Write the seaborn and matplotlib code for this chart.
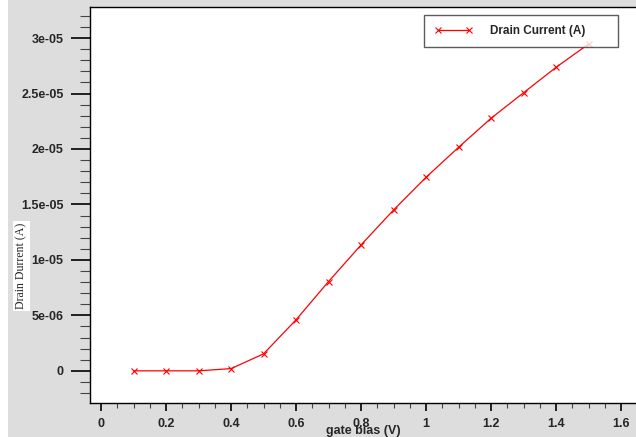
import matplotlib
matplotlib.use('Agg')
import matplotlib.pyplot as plt
import matplotlib.ticker as mticker
from matplotlib.patches import Rectangle
import pandas as pd
import seaborn as sns

# data
gate_bias = [0.1, 0.2, 0.3, 0.4, 0.5, 0.6, 0.7, 0.8, 0.9, 1.0, 1.1, 1.2, 1.3, 1.4, 1.5]
drain_current = [0.0, 0.0, 0.0, 0.2e-6, 1.53e-6, 4.6e-6, 8.05e-6, 11.35e-6, 14.5e-6,
                 17.45e-6, 20.15e-6, 22.77e-6, 25.07e-6, 27.36e-6, 29.46e-6]
series_name = 'Drain Current (A)'
x_label = 'gate bias (V)'
y_label = 'Drain Durrent (A)'

data = pd.DataFrame({'gate bias': gate_bias, 'current': drain_current})

sns.set_style('ticks')
plt.rcParams['font.family'] = ['Liberation Sans', 'DejaVu Sans']

W, H = 636, 437
fig = plt.figure(figsize=(W / 100, H / 100), dpi=100)
fig.patch.set_facecolor('#dddddd')
fig.patches.append(Rectangle((0, 0), 8 / W, 1, transform=fig.transFigure,
                             facecolor='white', edgecolor='none', zorder=-1))

left, right, top, bottom = 90, 636, 7, 403
ax = fig.add_axes([left / W, (H - bottom) / H, (right - left) / W, (bottom - top) / H])
ax.set_facecolor('white')

sns.lineplot(data=data, x='gate bias', y='current', ax=ax, color='red',
             marker='x', markersize=5, mec='red', mew=0.8, linewidth=0.9,
             label=series_name)

ax.set_xlim(-0.034, 1.646)
ax.set_ylim(-2.9e-6, 32.8e-6)

ax.xaxis.set_major_locator(mticker.MultipleLocator(0.2))
ax.xaxis.set_minor_locator(mticker.MultipleLocator(0.05))
ax.yaxis.set_major_locator(mticker.MultipleLocator(5e-6))
ax.yaxis.set_minor_locator(mticker.MultipleLocator(1e-6))
fmt = mticker.FuncFormatter(lambda v, p: '%g' % v)
ax.xaxis.set_major_formatter(fmt)
ax.yaxis.set_major_formatter(fmt)

ax.tick_params(axis='y', which='major', length=13.5, width=1.2, pad=5.5,
               labelsize=9, color='black')
ax.tick_params(axis='y', which='minor', length=7.2, width=0.8, color='#444444')
ax.tick_params(axis='x', which='major', length=6, width=1.2, pad=4.5,
               labelsize=9, color='black')
ax.tick_params(axis='x', which='minor', length=3.6, width=0.8, color='#444444')
for lab in ax.get_xticklabels() + ax.get_yticklabels():
    lab.set_fontweight('bold')

for side in ['left', 'top', 'bottom']:
    ax.spines[side].set_color('black')
    ax.spines[side].set_linewidth(1.0)
ax.spines['right'].set_visible(False)

ax.set_xlabel('')
ax.set_ylabel('')
fig.text(363 / W, 1 - 431 / H, x_label, ha='center', va='center',
         fontsize=9, fontweight='bold')
fig.text(21.5 / W, 1 - 266 / H, y_label, ha='center', va='center', rotation=90,
         fontsize=8.6, family='Liberation Serif',
         bbox=dict(facecolor='white', edgecolor='none', pad=1.5))

leg = ax.legend(loc='upper left', bbox_to_anchor=(424 / W, 1 - 15 / H, 194 / W, 0.0001),
                bbox_transform=fig.transFigure, mode='expand', borderaxespad=0,
                fancybox=False, frameon=True, numpoints=2, handlelength=3.3,
                handletextpad=1.4, borderpad=0.85, prop={'size': 8.5, 'weight': 'bold'})
leg.get_frame().set_edgecolor('#333333')
leg.get_frame().set_linewidth(1.0)

fig.savefig('out.png', dpi=100, facecolor=fig.get_facecolor())
